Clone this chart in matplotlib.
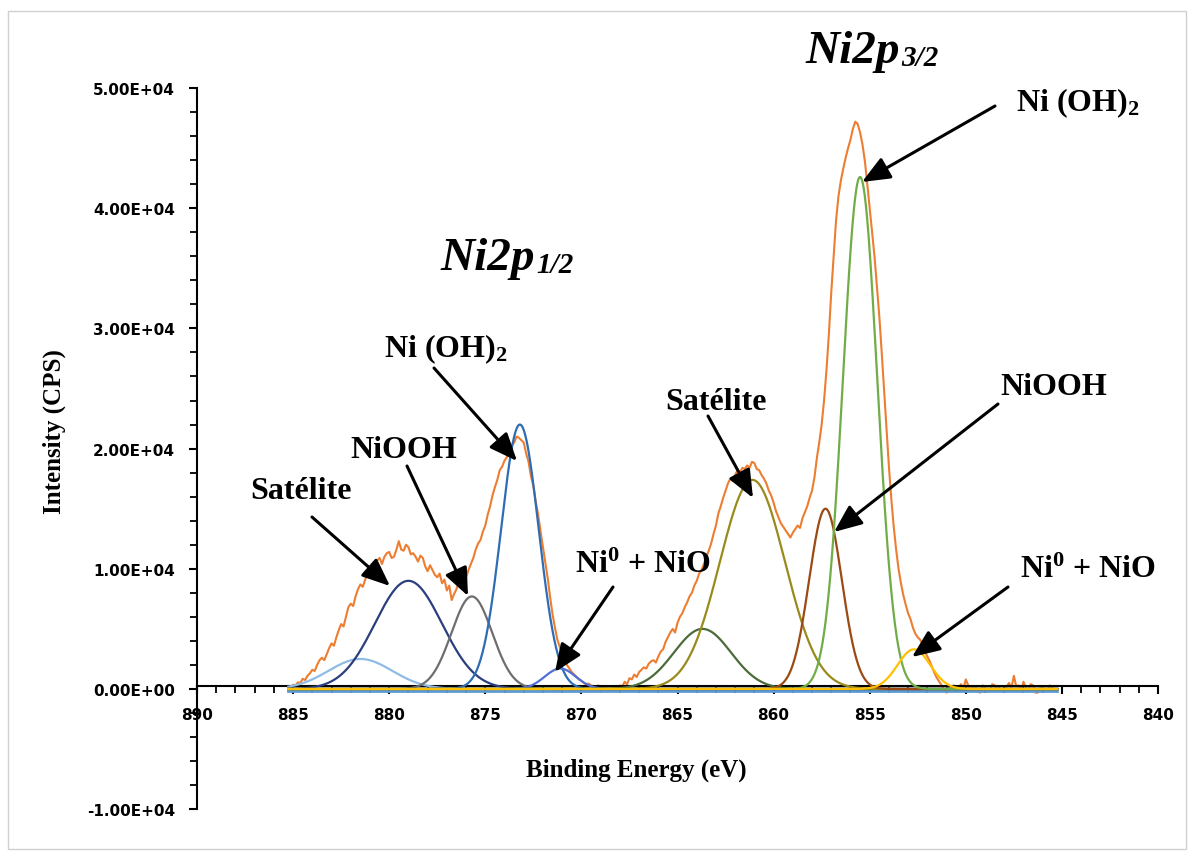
import numpy as np
import matplotlib.pyplot as plt
from matplotlib.ticker import MultipleLocator, FuncFormatter
from matplotlib.patches import Rectangle

plt.rcParams['mathtext.fontset'] = 'custom'
plt.rcParams['mathtext.rm'] = 'Liberation Serif:bold'
plt.rcParams['mathtext.bf'] = 'Liberation Serif:bold'
plt.rcParams['mathtext.it'] = 'Liberation Serif:bold:italic'

# measured spectrum, 885.25 -> 845.25 eV, step 0.125 eV (16 values per 2 eV row)
e_start, e_step = 885.25, -0.125
intensity = [
    200, 150, 350, 300, 550, 500, 850, 750, 1100, 1300, 1600, 1500, 2000, 2400, 2600, 2400,
    2900, 3400, 3800, 3600, 4300, 4900, 5400, 5200, 6000, 6800, 7100, 6900, 7700, 8300, 8700, 8500,
    9100, 9600, 9800, 9500, 10100, 10700, 10900, 10400, 11000, 11300, 11400, 10900, 11000, 11600, 12300, 11600,
    11500, 12000, 11800, 11200, 11300, 11000, 10600, 11100, 10900, 10200, 9800, 10300, 9900, 9500, 9300, 9600,
    8800, 9100, 8200, 8600, 7400, 7900, 8300, 8900, 8600, 8400, 9300, 9900, 10400, 10900, 11600, 12100,
    12400, 13100, 13600, 14500, 15200, 16100, 16800, 17400, 18200, 18500, 19000, 19300, 19700, 20300, 20500, 21000,
    20900, 20700, 20500, 19600, 18900, 17700, 16900, 15600, 14500, 13100, 11800, 10500, 9200, 7600, 6200, 5100,
    4100, 3500, 2900, 2500, 2000, 1700, 1400, 1200, 1000, 800, 700, 500, 400, 450, 300, 200,
    100, 300, -250, 100, 200, -100, -100, 250, 150, 0, 300, 200, 600, 400, 900, 800,
    1200, 1000, 1400, 1600, 1800, 1700, 2100, 2300, 2400, 2200, 2700, 3100, 3300, 3900, 4300, 4700,
    5000, 4700, 5500, 6000, 6300, 6800, 7200, 7700, 8000, 8600, 9000, 9600, 9900, 10400, 11000, 11500,
    12100, 12900, 13600, 14600, 15200, 15900, 16500, 17100, 17500, 17300, 17800, 18200, 18000, 18400, 18300, 18600,
    18400, 18900, 18800, 18300, 18200, 17800, 17500, 17100, 16500, 16100, 15500, 14800, 14300, 13800, 13500, 13200,
    12900, 12600, 13000, 13300, 13600, 13400, 14200, 14700, 15200, 15900, 16500, 17600, 19200, 20500, 22000, 24000,
    26500, 29500, 33000, 36000, 39000, 41000, 42300, 43300, 44200, 45000, 45700, 46600, 47200, 47000, 46300, 45300,
    43900, 42000, 40000, 38000, 36000, 33500, 31000, 28000, 24800, 21500, 18500, 15800, 13500, 11600, 10000, 8800,
    7800, 7000, 6300, 5800, 5100, 4600, 4300, 4100, 3700, 3100, 2700, 2300, 1800, 1300, 900, 600,
    300, -100, -300, 100, 0, 300, -200, 100, 400, 0, 800, 300, -100, 200, 200, -200,
    -300, 300, 100, -100, -200, 400, 300, 0, 100, -200, -100, 200, 500, 100, 1100, 200,
    300, -100, 600, 100, -200, 400, 300, -300, -300, 100, 200, -100, -100, 300, 100, -200,
    -100,
]
energy = e_start + e_step * np.arange(len(intensity))

# fitted components: centre (eV), height (CPS), FWHM (eV)
peak_center = [881.5, 879.0, 875.7, 873.2, 871.1, 863.7, 861.1, 857.3, 855.5, 852.7]
peak_height = [2500, 9000, 7700, 22000, 1700, 5000, 17400, 15000, 42600, 3300]
peak_fwhm = [3.9, 4.1, 2.5, 2.3, 1.9, 3.5, 4.0, 2.0, 2.1, 2.0]
peak_color = ['#8FBCE6', '#2B3F7E', '#6E6E6E', '#2E6DB4', '#4F6FD6',
              '#4B6B3A', '#9A8A1C', '#9C4A14', '#70AD47', '#FFC000']
background = [-130, -130]

W, H = 1193, 854
fig = plt.figure(figsize=(W / 100, H / 100), dpi=100)
ax = fig.add_axes([197 / W, (H - 810.2) / H, (1158 - 197) / W, (810.2 - 89) / H])

ax.plot(energy, intensity, color='#ED7D31', lw=1.5, zorder=2)
ax.plot([energy[0], energy[-1]], background, color='#5B9BD5', lw=2, zorder=3)
fine = np.linspace(energy[0], energy[-1], 1200)
for c, h, w, col in zip(peak_center, peak_height, peak_fwhm, peak_color):
    ax.plot(fine, h * np.exp(-4 * np.log(2) * (fine - c) ** 2 / w ** 2),
            color=col, lw=1.6, zorder=3)

ax.set_xlim(890, 840)
ax.set_ylim(-10000, 50000)
ax.spines['bottom'].set_position(('data', 270))
ax.spines[['top', 'right']].set_visible(False)
for s in ['left', 'bottom']:
    ax.spines[s].set_linewidth(1.5)

ax.xaxis.set_major_locator(MultipleLocator(5))
ax.xaxis.set_minor_locator(MultipleLocator(1))
ax.yaxis.set_major_locator(MultipleLocator(10000))
ax.yaxis.set_minor_locator(MultipleLocator(2000))
ax.yaxis.set_major_formatter(FuncFormatter(lambda v, p: f'{v:.2E}'))
ax.xaxis.set_major_formatter(FuncFormatter(lambda v, p: f'{v:.0f}'))
ax.tick_params(which='major', direction='out', length=6, width=1.5)
ax.tick_params(which='minor', direction='out', length=5, width=1.3)
ax.tick_params(axis='y', which='major', pad=10)
ax.tick_params(axis='x', which='major', pad=9)
for lab in ax.get_xticklabels() + ax.get_yticklabels():
    lab.set_fontfamily('DejaVu Sans')
    lab.set_fontweight('bold')
    lab.set_fontsize(11)

def fp(x, y):
    return (x / W, 1 - y / H)

serif = 'Liberation Serif'
fig.text(*fp(636, 770), 'Binding Energy (eV)', family=serif, weight='bold',
         fontsize=18, ha='center', va='center')
fig.text(*fp(54, 432), 'Intensity (CPS)', family=serif, weight='bold',
         fontsize=18, ha='center', va='center', rotation=90)

# peak group titles
fig.text(*fp(805, 63), 'Ni2p', family=serif, weight='bold', style='italic',
         fontsize=34, va='baseline')
fig.text(*fp(901, 66), '3/2', family=serif, weight='bold', style='italic',
         fontsize=21, va='baseline')
fig.text(*fp(440, 270), 'Ni2p', family=serif, weight='bold', style='italic',
         fontsize=34, va='baseline')
fig.text(*fp(536, 273), '1/2', family=serif, weight='bold', style='italic',
         fontsize=21, va='baseline')

labels = [
    ('Ni (OH)$_2$', 1016, 111.7),
    ('Ni (OH)$_2$', 384, 357.3),
    ('NiOOH', 350, 458.3),
    ('Satélite', 250, 499.3),
    ('Ni$^0$ + NiO', 575, 573.3),
    ('Satélite', 665, 410),
    ('NiOOH', 1000, 395),
    ('Ni$^0$ + NiO', 1020, 578.3),
]
for txt, x, y in labels:
    fig.text(*fp(x, y), txt, family=serif, weight='bold', fontsize=23,
             va='baseline', ha='left')

arrows = [
    ((995, 107), (862, 183)),
    ((998, 405), (834, 533)),
    ((1008, 588), (912, 658)),
    ((708, 417), (753, 499)),
    ((613, 588), (555, 673)),
    ((434, 369), (517, 462)),
    ((407, 467), (468, 597)),
    ((312, 518), (390, 587)),
]
for (x0, y0), (x1, y1) in arrows:
    ax.annotate('', xy=(x1, H - y1), xytext=(x0, H - y0),
                xycoords='figure pixels', textcoords='figure pixels',
                arrowprops=dict(arrowstyle='-|>,head_length=1.0,head_width=0.42',
                                mutation_scale=17, color='black', lw=2.2,
                                shrinkA=0, shrinkB=0))

fig.add_artist(Rectangle((8 / W, 4 / H), (1186 - 8) / W, (842 - 4) / H,
                         transform=fig.transFigure, fill=False,
                         edgecolor='#d0d0d0', lw=1))

fig.savefig('out.png', dpi=100)
